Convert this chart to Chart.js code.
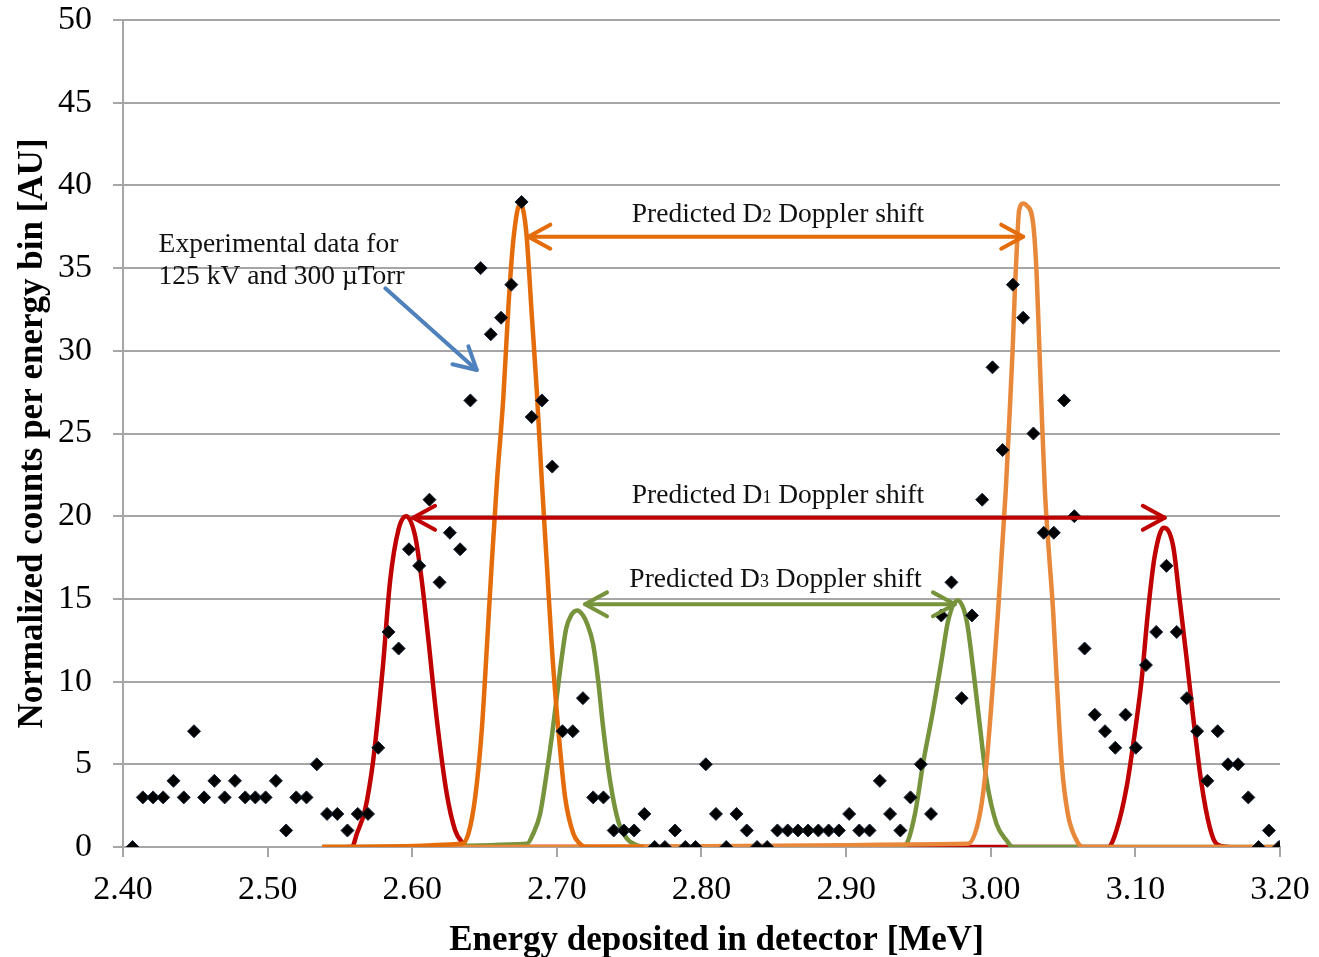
<!DOCTYPE html>
<html>
<head>
<meta charset="utf-8">
<script src="https://cdn.jsdelivr.net/npm/chart.js@4.4.0/dist/chart.umd.min.js"></script>
<style>
html,body{margin:0;padding:0;background:#ffffff;}
#wrap{width:1319px;height:957px;position:relative;}
</style>
</head>
<body>
<div id="wrap"><canvas id="c"></canvas></div>
<script>
// ---- Experimental data (energy bin centres in MeV, normalized counts) ----
const energyBins = [
 2.4066,2.4137,2.4208,2.4278,2.4349,2.4420,2.4491,2.4561,2.4632,2.4703,
 2.4774,2.4845,2.4915,2.4986,2.5057,2.5128,2.5198,2.5269,2.5340,2.5411,
 2.5482,2.5552,2.5623,2.5694,2.5765,2.5836,2.5906,2.5977,2.6048,2.6119,
 2.6189,2.6260,2.6331,2.6402,2.6473,2.6543,2.6614,2.6685,2.6756,2.6826,
 2.6897,2.6968,2.7039,2.7110,2.7180,2.7251,2.7322,2.7393,2.7463,2.7534,
 2.7605,2.7676,2.7747,2.7817,2.7888,2.7959,2.8030,2.8100,2.8171,2.8242,
 2.8313,2.8384,2.8454,2.8525,2.8596,2.8667,2.8737,2.8808,2.8879,2.8950,
 2.9021,2.9091,2.9162,2.9233,2.9304,2.9375,2.9445,2.9516,2.9587,2.9658,
 2.9728,2.9799,2.9870,2.9941,3.0012,3.0082,3.0153,3.0224,3.0295,3.0366,
 3.0436,3.0507,3.0578,3.0649,3.0719,3.0790,3.0861,3.0932,3.1003,3.1073,
 3.1144,3.1215,3.1286,3.1356,3.1427,3.1498,3.1569,3.1640,3.1710,3.1781,
 3.1852,3.1923,3.1993
];
const counts = [
 0,3,3,3,4,3,7,3,4,3,
 4,3,3,3,4,1,3,3,5,2,
 2,1,2,2,6,13,12,18,17,21,
 16,19,18,27,35,31,32,34,39,26,
 27,23,7,7,9,3,3,1,1,1,
 2,0,0,1,0,0,5,2,0,2,
 1,0,0,1,1,1,1,1,1,1,
 2,1,1,4,2,1,3,5,2,14,
 16,9,14,21,29,24,34,32,25,19,
 19,27,20,12,8,7,6,8,6,11,
 13,17,13,9,7,4,7,5,5,3,
 0,1,0
];

// ---- Predicted D1 Doppler shift (red) ----
const d1Energy = [2.5550,2.5583,2.5617,2.5675,2.5728,2.5766,2.5797,2.5847,2.5905,2.5958,
 2.6020,2.6066,2.6112,2.6170,2.6239,2.6297,2.6343,2.6390,
 3.0811,3.0869,3.0939,3.0996,3.1042,3.1088,3.1134,3.1196,
 3.1261,3.1307,3.1353,3.1399,3.1457,3.1514,3.1560,3.1650];
const d1Counts = [0,0,0.8,2.3,5.1,8.1,10.9,16.1,19.2,20.0,
 18.8,16.1,12.5,7.7,3.2,1.0,0.3,0,
 0,1.0,3.6,6.9,10.0,14.3,17.6,19.3,
 18.2,14.9,11.5,7.9,3.85,1.2,0.2,0];

// ---- Predicted D2 Doppler shift (orange), low-energy peak ----
const d2LowEnergy = [2.5377,2.6343,2.6388,2.6435,2.6481,2.6516,2.6550,2.6585,2.6630,2.6665,2.6699,
 2.6746,2.6787,2.6827,2.6861,2.6896,2.6930,2.6965,2.7010,2.7057,2.7114,2.7160,2.7200,2.7600];
const d2LowCounts = [0,0.2,0.8,3.0,7.1,12.1,17.2,22.0,27.2,32.7,36.7,
 38.9,37.3,32.1,27.6,22.1,17.2,12.1,7.1,3.0,0.8,0.2,0,0];

// ---- Predicted D2 Doppler shift (orange), high-energy peak ----
const d2HighEnergy = [2.5377,2.9844,2.9925,2.9971,3.0017,3.0051,3.0075,3.0104,3.0127,3.0151,3.0167,3.0183,3.0196,
 3.0224,3.0247,3.0293,3.0317,3.0334,3.0351,3.0374,3.0404,3.0431,3.0457,3.0491,3.0533,3.0588,3.0637,3.2000];
const d2HighCounts = [0,0.2,2.0,5.1,10.1,14.3,17.6,21.6,25.6,30.0,33.7,36.7,38.5,
 38.9,38.8,37.7,34.7,30.7,26.6,21.6,17.6,14.3,10.0,5.0,2.0,0.5,0,0];

// ---- Predicted D3 Doppler shift (green) ----
const d3Energy = [2.5377,2.6794,2.6836,2.6884,2.6925,2.6967,2.7001,2.7036,2.7064,2.7098,2.7140,
 2.7181,2.7209,2.7250,2.7285,2.7319,2.7368,2.7423,2.7485,2.7554,2.7610,
 2.9372,2.9418,2.9476,2.9533,2.9600,2.9660,2.9706,2.9771,
 2.9833,2.9878,2.9925,2.9971,3.0040,3.0109,3.0153,3.2000];
const d3Counts = [0,0.2,0.8,2.0,4.2,6.8,9.2,11.6,13.2,14.0,14.3,
 14.0,13.5,12.3,10.1,7.3,4.0,1.6,0.5,0.1,0,
 0,0.2,2.0,5.1,8.2,11.3,13.7,14.9,
 13.7,10.8,7.3,4.05,1.4,0.4,0,0];

// ---- Axes ----
const xTickValues = [2.40,2.50,2.60,2.70,2.80,2.90,3.00,3.10,3.20];
const yTickValues = [0,5,10,15,20,25,30,35,40,45,50];
const xAxisTitle = 'Energy deposited in detector [MeV]';
const yAxisTitle = 'Normalized counts per energy bin [AU]';

// ---- Annotations (text) ----
const expNoteLines = ['Experimental data for', '125 kV and 300 \u00B5Torr'];
const shiftLabels = [
  {pre:'Predicted D', sub:'2', post:' Doppler shift'},
  {pre:'Predicted D', sub:'1', post:' Doppler shift'},
  {pre:'Predicted D', sub:'3', post:' Doppler shift'}
];

function toPoints(xs, ys){ return xs.map((v,i)=>({x:v, y:ys[i]})); }

const SERIF = '"Liberation Serif", "Times New Roman", serif';
const GRID = '#A6A6A6';

// placement/style of annotations (in data coordinates)
const arrowSpecs = [
  {x1:2.6803, x2:3.0224, y:36.9, color:'#E46C0A', lab:0, lx:2.7518, ly:37.77},
  {x1:2.6006, x2:3.1203, y:19.9, color:'#C00000', lab:1, lx:2.7518, ly:20.78},
  {x1:2.7195, x2:2.9752, y:14.67, color:'#77933C', lab:2, lx:2.7501, ly:15.74}
];
const noteSpec = {x:2.4246, y1:35.99, y2:34.04, ax1:2.5814, ay1:33.78, ax2:2.6446, ay2:28.84, color:'#4F81BD'};

function head(ctx, tx, ty, ang, len, spread){
  ctx.beginPath();
  ctx.moveTo(tx - len*Math.cos(ang - spread), ty - len*Math.sin(ang - spread));
  ctx.lineTo(tx, ty);
  ctx.lineTo(tx - len*Math.cos(ang + spread), ty - len*Math.sin(ang + spread));
  ctx.stroke();
}

const annotPlugin = {
  id: 'annot',
  afterDatasetsDraw(chart){
    const ctx = chart.ctx, xs = chart.scales.x, ys = chart.scales.y;
    ctx.save();
    ctx.lineCap = 'round';
    ctx.lineJoin = 'round';
    arrowSpecs.forEach(a => {
      const X1 = xs.getPixelForValue(a.x1), X2 = xs.getPixelForValue(a.x2), Y = ys.getPixelForValue(a.y);
      ctx.strokeStyle = a.color; ctx.lineWidth = 4;
      ctx.beginPath(); ctx.moveTo(X1, Y); ctx.lineTo(X2, Y); ctx.stroke();
      head(ctx, X1, Y, Math.PI, 25, 0.5);
      head(ctx, X2, Y, 0, 25, 0.5);
      const L = shiftLabels[a.lab];
      let px = xs.getPixelForValue(a.lx); const py = ys.getPixelForValue(a.ly);
      ctx.fillStyle = '#111';
      ctx.textBaseline = 'alphabetic'; ctx.textAlign = 'left';
      ctx.font = '27.5px ' + SERIF;
      ctx.fillText(L.pre, px, py); px += ctx.measureText(L.pre).width;
      ctx.font = '18px ' + SERIF;
      ctx.fillText(L.sub, px, py); px += ctx.measureText(L.sub).width;
      ctx.font = '27.5px ' + SERIF;
      ctx.fillText(L.post, px, py);
    });
    const nx = xs.getPixelForValue(noteSpec.x);
    ctx.fillStyle = '#111'; ctx.font = '27.5px ' + SERIF; ctx.textAlign = 'left'; ctx.textBaseline = 'alphabetic';
    ctx.fillText(expNoteLines[0], nx, ys.getPixelForValue(noteSpec.y1));
    ctx.fillText(expNoteLines[1], nx, ys.getPixelForValue(noteSpec.y2));
    const bx1 = xs.getPixelForValue(noteSpec.ax1), by1 = ys.getPixelForValue(noteSpec.ay1);
    const bx2 = xs.getPixelForValue(noteSpec.ax2), by2 = ys.getPixelForValue(noteSpec.ay2);
    ctx.strokeStyle = noteSpec.color; ctx.lineWidth = 4;
    ctx.beginPath(); ctx.moveTo(bx1, by1); ctx.lineTo(bx2, by2); ctx.stroke();
    head(ctx, bx2, by2, Math.atan2(by2 - by1, bx2 - bx1), 25, 0.5);
    const ca = chart.chartArea;
    ctx.fillStyle = '#000'; ctx.font = 'bold 35px ' + SERIF; ctx.textAlign = 'center';
    ctx.fillText(xAxisTitle, (ca.left + ca.right)/2 + 15, 950);
    ctx.restore();
  }
};

const lineStyle = (color, order) => ({
  showLine: true, borderColor: color, backgroundColor: color, borderWidth: 4.5,
  pointRadius: 0, pointHoverRadius: 0, cubicInterpolationMode: 'monotone', fill: false, order: order
});

new Chart(document.getElementById('c'), {
  type: 'scatter',
  data: {
    datasets: [
      {label:'Experimental data', data: toPoints(energyBins, counts), pointStyle:'rectRot', pointRadius:6.5,
       backgroundColor:'#000', borderColor:'#14243a', borderWidth:1, showLine:false, order:0},
      Object.assign({label:'D2 low', data: toPoints(d2LowEnergy, d2LowCounts)}, lineStyle('#E46C0A', 1)),
      Object.assign({label:'D2 high', data: toPoints(d2HighEnergy, d2HighCounts)}, lineStyle('#E8883A', 2)),
      Object.assign({label:'D3', data: toPoints(d3Energy, d3Counts)}, lineStyle('#77933C', 3)),
      Object.assign({label:'D1', data: toPoints(d1Energy, d1Counts)}, lineStyle('#C00000', 4))
    ]
  },
  options: {
    responsive: true, maintainAspectRatio: false, animation: false, devicePixelRatio: 1,
    layout: {padding: {top: 20, right: 39, left: 0, bottom: 0}},
    plugins: {legend: {display: false}, tooltip: {enabled: false}},
    events: [],
    scales: {
      x: {
        type: 'linear', min: 2.4, max: 3.2,
        afterBuildTicks: s => { s.ticks = xTickValues.map(v => ({value: v})); },
        afterFit: s => { s.height = 110; s.paddingLeft = 0; s.paddingRight = 0; },
        ticks: {autoSkip:false, maxRotation:0, padding:13, color:'#000',
                font:{family:SERIF, size:34}, callback: v => Number(v).toFixed(2)},
        grid: {drawOnChartArea:false, drawTicks:true, tickLength:10, color:GRID, lineWidth:2},
        border: {display:true, color:GRID, width:2}
      },
      y: {
        type: 'linear', min: 0, max: 50,
        afterBuildTicks: s => { s.ticks = yTickValues.map(v => ({value: v})); },
        afterFit: s => { s.width = 123; s.paddingTop = 0; s.paddingBottom = 0; },
        ticks: {padding:21, color:'#000', font:{family:SERIF, size:34}},
        grid: {drawTicks:true, tickLength:10, color:GRID, lineWidth:2},
        border: {display:true, color:GRID, width:2},
        title: {display:true, text:yAxisTitle, color:'#000',
                font:{family:SERIF, size:35, weight:'bold', lineHeight:1}, padding:{top:15.5, bottom:0}}
      }
    }
  },
  plugins: [annotPlugin]
});
</script>
</body>
</html>
